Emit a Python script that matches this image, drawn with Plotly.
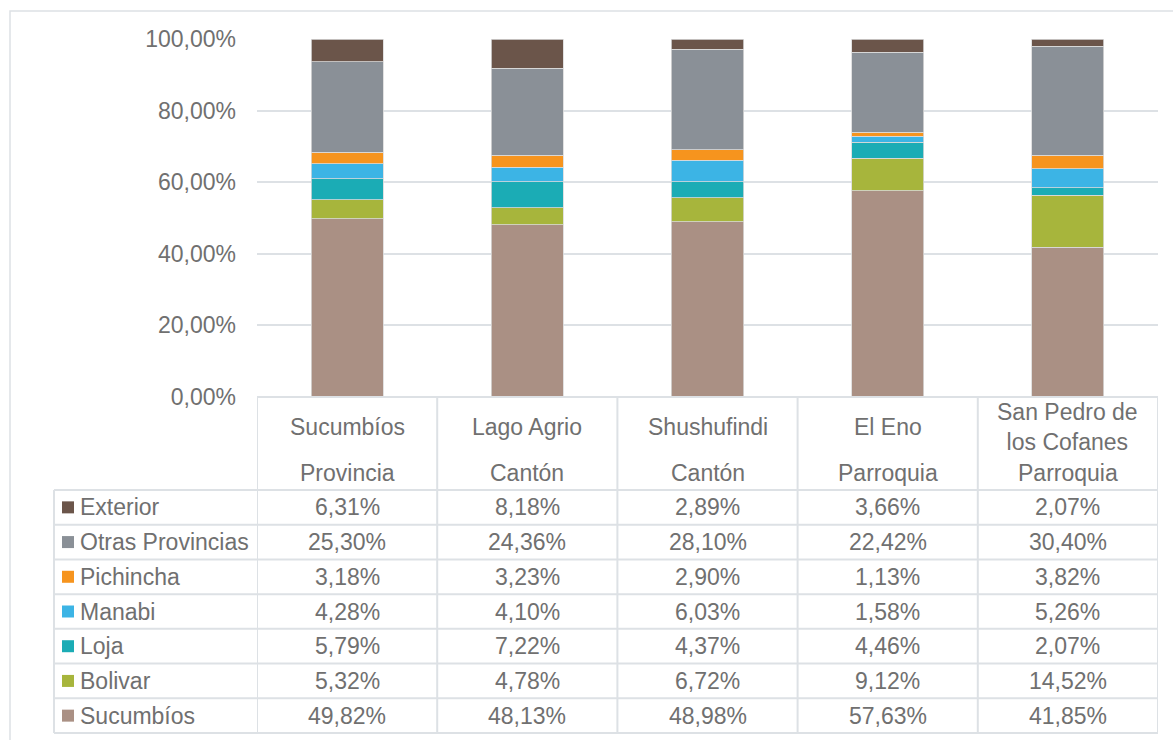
import plotly.graph_objects as go

# ---- data ----
categories = ["Sucumbíos", "Lago Agrio", "Shushufindi", "El Eno", "San Pedro de<br>los Cofanes"]
levels = ["Provincia", "Cantón", "Cantón", "Parroquia", "Parroquia"]

sucumbios = [49.82, 48.13, 48.98, 57.63, 41.85]
bolivar = [5.32, 4.78, 6.72, 9.12, 14.52]
loja = [5.79, 7.22, 4.37, 4.46, 2.07]
manabi = [4.28, 4.10, 6.03, 1.58, 5.26]
pichincha = [3.18, 3.23, 2.90, 1.13, 3.82]
otras = [25.30, 24.36, 28.10, 22.42, 30.40]
exterior = [6.31, 8.18, 2.89, 3.66, 2.07]

series_names = ["Sucumbíos", "Bolivar", "Loja", "Manabi", "Pichincha", "Otras Provincias", "Exterior"]
series_values = [sucumbios, bolivar, loja, manabi, pichincha, otras, exterior]
series_colors = ["#AA9084", "#A7B53C", "#1BACB5", "#3CB4E5", "#F6941E", "#8A9097", "#6B554A"]

# ---- layout geometry (pixels) ----
W, H = 1173, 740
L, R, T, B = 257, 15, 39, 343
PW, PH = W - L - R, H - T - B
FONT = "Liberation Sans, Arial, sans-serif"
TXT = "#707070"
LINE = "#DDE1E5"
FS = 23


def px2x(px):
    return (px - L) / PW


def py2y(py):
    return (H - B - py) / PH


n = len(categories)
x = list(range(n))

fig = go.Figure()
for name, vals, col in zip(series_names, series_values, series_colors):
    fig.add_trace(go.Bar(
        x=x, y=vals, name=name, width=0.4,
        marker=dict(color=col, line=dict(color="#DADADA", width=0.8)),
        showlegend=False,
    ))

shapes = []
annotations = []

# outer chart border
shapes.append(dict(type="rect", xref="paper", yref="paper",
                   x0=px2x(10), x1=px2x(1190), y0=py2y(760), y1=py2y(11),
                   line=dict(color=LINE, width=1.5), layer="below"))

# table geometry
header_top = 397
header_bot = 490
row_h = (733 - 490) / 7
row_edges = [header_bot + i * row_h for i in range(8)]
label_left = 54

# vertical column lines
for i in range(n + 1):
    shapes.append(dict(type="line", xref="x", yref="paper",
                       x0=i - 0.5, x1=i - 0.5, y0=py2y(header_top), y1=py2y(733),
                       line=dict(color=LINE, width=2)))
# header top line
shapes.append(dict(type="line", xref="x", yref="paper",
                   x0=-0.5, x1=n - 0.5, y0=py2y(header_top), y1=py2y(header_top),
                   line=dict(color=LINE, width=2)))
# row lines
for e in row_edges:
    shapes.append(dict(type="line", xref="paper", yref="paper",
                       x0=px2x(label_left), x1=1, y0=py2y(e), y1=py2y(e),
                       line=dict(color=LINE, width=2)))
# left line of label column
shapes.append(dict(type="line", xref="paper", yref="paper",
                   x0=px2x(label_left), x1=px2x(label_left), y0=py2y(header_bot), y1=py2y(733),
                   line=dict(color=LINE, width=2)))

# header texts
for i, (c, lv) in enumerate(zip(categories, levels)):
    annotations.append(dict(x=i, y=py2y(427), xref="x", yref="paper", text=c,
                            showarrow=False, xanchor="center", yanchor="middle",
                            font=dict(size=FS, color=TXT, family=FONT)))
    annotations.append(dict(x=i, y=py2y(473), xref="x", yref="paper", text=lv,
                            showarrow=False, xanchor="center", yanchor="middle",
                            font=dict(size=FS, color=TXT, family=FONT)))

# table rows (top: Exterior ... bottom: Sucumbíos)
rows = list(zip(series_names, series_values, series_colors))[::-1]
for r, (name, vals, col) in enumerate(rows):
    yc = (row_edges[r] + row_edges[r + 1]) / 2
    shapes.append(dict(type="rect", xref="paper", yref="paper",
                       x0=px2x(62), x1=px2x(74), y0=py2y(yc + 6), y1=py2y(yc - 6),
                       fillcolor=col, line=dict(width=0)))
    annotations.append(dict(x=px2x(78), y=py2y(yc), xref="paper", yref="paper", text=name,
                            showarrow=False, xanchor="left", yanchor="middle",
                            font=dict(size=FS, color=TXT, family=FONT)))
    for i, v in enumerate(vals):
        annotations.append(dict(x=i, y=py2y(yc), xref="x", yref="paper",
                                text=f"{v:.2f}%".replace(".", ","),
                                showarrow=False, xanchor="center", yanchor="middle",
                                font=dict(size=FS, color=TXT, family=FONT)))

fig.update_layout(
    width=W, height=H,
    margin=dict(l=L, r=R, t=T, b=B),
    barmode="stack",
    bargap=0.6,
    paper_bgcolor="white", plot_bgcolor="white",
    separators=",.",
    shapes=shapes,
    annotations=annotations,
    xaxis=dict(range=[-0.5, n - 0.5], showticklabels=False, showgrid=False,
               zeroline=False, showline=False, fixedrange=True),
    yaxis=dict(range=[0, 100], tickvals=[0, 20, 40, 60, 80, 100],
               ticktext=[f"{v:.2f}%".replace(".", ",") for v in [0, 20, 40, 60, 80, 100]],
               showgrid=True, gridcolor=LINE, gridwidth=2, zeroline=False,
               showline=False, ticks="", ticklabelstandoff=20,
               tickfont=dict(size=FS, color=TXT, family=FONT)),
)

fig.write_html("out.html", config={"displayModeBar": False},
               post_script="document.body.style.margin='0';")
